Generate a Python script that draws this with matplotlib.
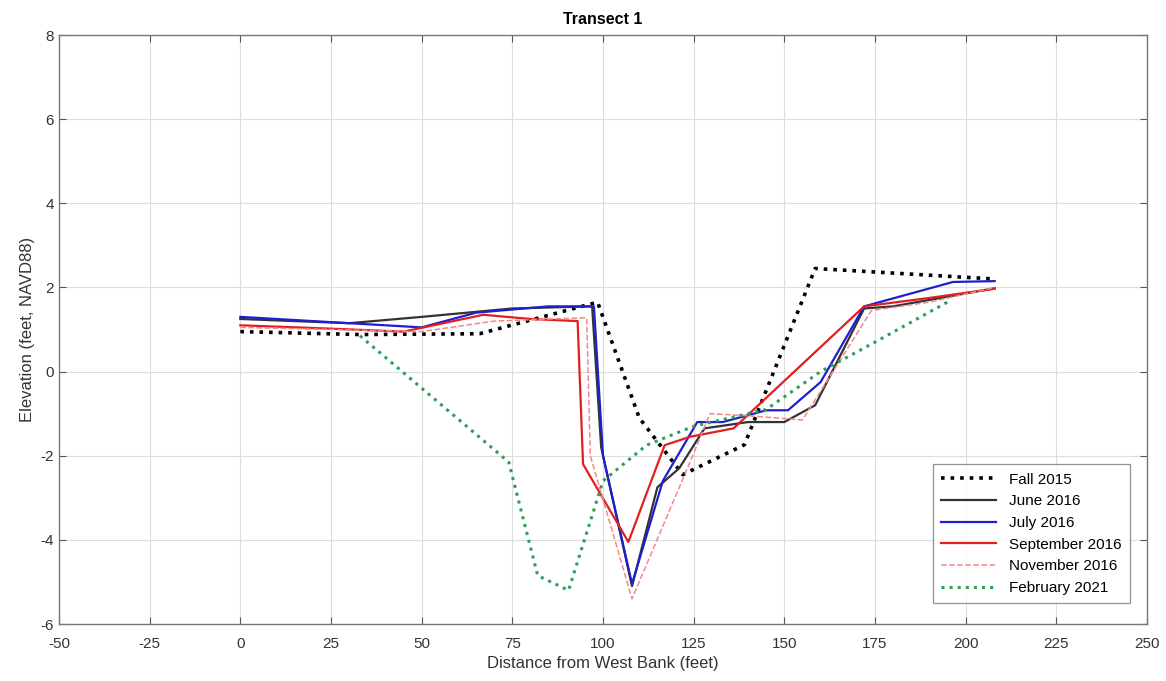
import matplotlib
matplotlib.use("Agg")
import matplotlib.pyplot as plt

plt.rcParams['font.family'] = ['Liberation Sans', 'DejaVu Sans']
plt.rcParams['axes.unicode_minus'] = False

# survey profiles, distance (ft) / elevation (ft NAVD88)
fall15_x = [0, 33, 66, 98.5, 110, 122, 139, 158.5, 208]
fall15_y = [0.95, 0.88, 0.9, 1.65, -1.1, -2.45, -1.74, 2.45, 2.2]

jun16_x = [0, 30, 50, 75, 97, 99.5, 108, 115, 121, 128, 140, 150, 158.5, 172, 180, 208]
jun16_y = [1.25, 1.15, 1.3, 1.5, 1.55, -1.8, -5.1, -2.75, -2.3, -1.35, -1.2, -1.2, -0.8, 1.5, 1.55, 1.98]

jul16_x = [0, 30, 50, 65, 85, 97.5, 100, 108, 116.5, 126, 133, 145, 151, 160, 172, 196.5, 208]
jul16_y = [1.3, 1.15, 1.05, 1.4, 1.55, 1.55, -2.0, -5.05, -2.6, -1.2, -1.2, -0.92, -0.92, -0.25, 1.55, 2.13, 2.15]

sep16_x = [0, 25, 45, 67, 80, 93, 94.5, 107, 117, 124, 136, 172, 190, 208]
sep16_y = [1.1, 1.02, 0.95, 1.35, 1.25, 1.2, -2.2, -4.05, -1.75, -1.55, -1.35, 1.55, 1.75, 1.97]

nov16_x = [0, 25, 50, 70, 95.5, 96.5, 108, 124, 129.5, 140, 155, 174, 190, 208]
nov16_y = [1.05, 1.0, 0.95, 1.2, 1.28, -2.0, -5.4, -2.15, -1.0, -1.05, -1.15, 1.45, 1.65, 2.0]

feb21_x = [33, 74, 82, 90.5, 100, 112, 125, 145, 160, 175, 196]
feb21_y = [0.85, -2.15, -4.85, -5.2, -2.6, -1.75, -1.3, -0.9, 0.0, 0.7, 1.7]

xticks = list(range(-50, 251, 25))
yticks = list(range(-6, 9, 2))

fig = plt.figure(figsize=(11.66, 6.81), dpi=100)
ax = fig.add_axes([0.0506, 0.0837, 0.9331, 0.8649])

ax.plot(fall15_x, fall15_y, color='black', linestyle=':', linewidth=2.6, label='Fall 2015')
ax.plot(jun16_x, jun16_y, color='#333333', linestyle='-', linewidth=1.6, label='June 2016')
ax.plot(jul16_x, jul16_y, color='#1f1fd0', linestyle='-', linewidth=1.6, label='July 2016')
ax.plot(sep16_x, sep16_y, color='#e02020', linestyle='-', linewidth=1.6, label='September 2016')
ax.plot(nov16_x, nov16_y, color='#f08a8a', linestyle='--', linewidth=1.1, label='November 2016')
ax.plot(feb21_x, feb21_y, color='#2e9e5a', linestyle=':', linewidth=2.2, label='February 2021')

ax.set_xlim(-50, 250)
ax.set_ylim(-6, 8)
ax.set_xticks(xticks)
ax.set_yticks(yticks)
ax.grid(True, color='#dddddd', linewidth=0.8)
ax.tick_params(direction='in', top=True, right=True, labelsize=11,
               colors='#555555', labelcolor='#333333', length=5)
ax.tick_params(axis='x', pad=9)
for sp in ax.spines.values():
    sp.set_color('#777777')
    sp.set_linewidth(1.0)

ax.set_title('Transect 1', fontsize=11.5, fontweight='bold', pad=8)
ax.set_xlabel('Distance from West Bank (feet)', fontsize=12, color='#333333', labelpad=4)
ax.set_ylabel('Elevation (feet, NAVD88)', fontsize=12, color='#333333')

leg = ax.legend(loc='lower right', fontsize=11, frameon=True, fancybox=False,
                edgecolor='#777777', handlelength=3.6, borderpad=0.55,
                labelspacing=0.5, bbox_to_anchor=(0.991, 0.022))
leg.get_frame().set_linewidth(0.9)

fig.savefig('out.png', dpi=100)
